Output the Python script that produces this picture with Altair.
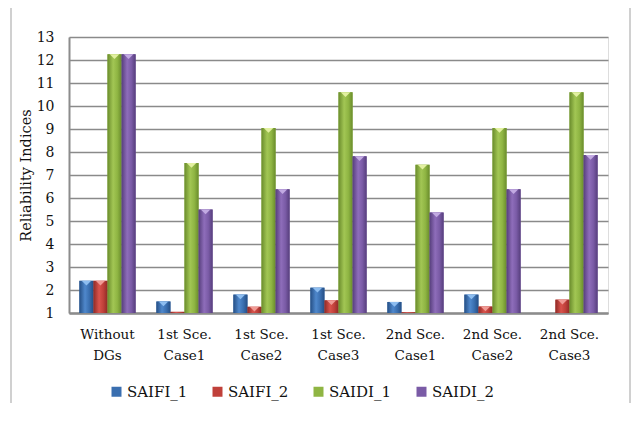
import altair as alt
import pandas as pd

categories = ["Without|DGs", "1st Sce.|Case1", "1st Sce.|Case2", "1st Sce.|Case3",
              "2nd Sce.|Case1", "2nd Sce.|Case2", "2nd Sce.|Case3"]
series = ["SAIFI_1", "SAIFI_2", "SAIDI_1", "SAIDI_2"]
saifi_1 = [2.4, 1.5, 1.8, 2.1, 1.48, 1.8, None]
saifi_2 = [2.4, 1.05, 1.27, 1.55, 1.03, 1.28, 1.58]
saidi_1 = [12.25, 7.52, 9.04, 10.6, 7.45, 9.04, 10.6]
saidi_2 = [12.25, 5.5, 6.38, 7.81, 5.37, 6.38, 7.87]
y_ticks = list(range(1, 14))

base_colors = ["#3a6fb0", "#c0403a", "#8fb543", "#7a5ba6"]
mid_colors = ["#4f88cc", "#d9534c", "#a2c654", "#8e6dba"]
dark_colors = ["#254f85", "#8f2a26", "#6a8c2c", "#563e7c"]
tri_colors = ["#8dbdf0", "#f09a94", "#e2f0a0", "#c2aae2"]

rows = []
for s, vals in zip(series, [saifi_1, saifi_2, saidi_1, saidi_2]):
    for c, v in zip(categories, vals):
        if v is not None:
            rows.append({"cat": c, "series": s, "value": v})
df = pd.DataFrame(rows)

SERIF = "DejaVu Serif"

x_enc = alt.X(
    "cat:N", sort=categories,
    scale=alt.Scale(domain=categories, paddingInner=0.27, paddingOuter=0.135),
    axis=alt.Axis(title=None, labelExpr="split(datum.label, '|')", labelAngle=0,
                  labelFont=SERIF, labelColor="#111111",
                  labelFontSize=13.5, labelPadding=14, labelLineHeight=21,
                  ticks=False, tickSize=0, domainWidth=2.5, domainColor="#8c8c8c",
                  grid=False),
)
xoff = alt.XOffset("series:N", scale=alt.Scale(domain=series, paddingInner=0, paddingOuter=0))
y_enc = alt.Y(
    "value:Q",
    scale=alt.Scale(domain=[1, 13], nice=False, zero=False),
    axis=alt.Axis(values=y_ticks, title="Reliability Indices", titleFontSize=14.5,
                  titleFont=SERIF, labelFont=SERIF,
                  titleColor="#111111", labelColor="#111111",
                  titleFontWeight="normal", titlePadding=3, labelFontSize=14,
                  labelPadding=15, ticks=False, tickSize=0, domainWidth=2,
                  domainColor="#8c8c8c",
                  grid=True, gridColor="#8a8a8a", gridWidth=1.6, labelOverlap=False),
)

base = alt.Chart(df).mark_bar().encode(
    x=x_enc, xOffset=xoff, y=y_enc, y2=alt.datum(1),
    color=alt.Color("series:N", scale=alt.Scale(domain=series, range=base_colors),
                    legend=alt.Legend(title=None, orient="none", legendX=40, legendY=347,
                                      direction="horizontal", symbolType="square",
                                      symbolSize=100, symbolStrokeWidth=0,
                                      labelFont=SERIF, labelColor="#111111",
                                      labelFontSize=15, columnPadding=22,
                                      labelOffset=3)),
)

layers = [base]
for i, s in enumerate(series):
    grad = alt.LinearGradient(
        gradient="linear", x1=0, x2=1, y1=0, y2=0,
        stops=[alt.GradientStop(color=dark_colors[i], offset=0),
               alt.GradientStop(color=mid_colors[i], offset=0.4),
               alt.GradientStop(color=base_colors[i], offset=0.7),
               alt.GradientStop(color=dark_colors[i], offset=1)],
    )
    layers.append(
        alt.Chart(df).transform_filter(alt.datum.series == s).mark_bar(fill=grad).encode(
            x=x_enc, xOffset=xoff, y=y_enc, y2=alt.datum(1))
    )

tri = alt.Chart(df).transform_filter(alt.datum.value > 1.15).mark_point(
    shape="M-1,0L1,0L0,1Z", filled=True, size=90, opacity=1, strokeWidth=0).encode(
    x=x_enc, xOffset=xoff, y=y_enc,
    fill=alt.Fill("series:N", scale=alt.Scale(domain=series, range=tri_colors), legend=None),
)
layers.append(tri)

frame = alt.Chart(df).mark_rect(fill=None, stroke="#d0d0d0", strokeWidth=1.5).encode(
    x=alt.value(-58), x2=alt.value(561), y=alt.value(-30), y2=alt.value(400))
layers.append(frame)

chart = alt.layer(*layers).properties(
    width=539, height=276,
    autosize=alt.AutoSizeParams(type="none"),
    padding={"left": 61, "top": 29, "right": 24, "bottom": 90},
).configure_view(stroke=None).configure(background="white")

chart.save("out.html", embed_options={"renderer": "svg", "actions": False})
